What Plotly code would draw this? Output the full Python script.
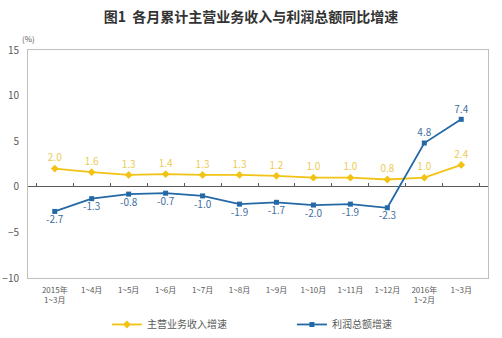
import plotly.graph_objects as go

categories = ["2015年<br>1~3月", "1~4月", "1~5月", "1~6月", "1~7月", "1~8月", "1~9月",
              "1~10月", "1~11月", "1~12月", "2016年<br>1~2月", "1~3月"]
revenue = [2.0, 1.6, 1.3, 1.4, 1.3, 1.3, 1.2, 1.0, 1.0, 0.8, 1.0, 2.4]
profit = [-2.7, -1.3, -0.8, -0.7, -1.0, -1.9, -1.7, -2.0, -1.9, -2.3, 4.8, 7.4]
yticks = [15, 10, 5, 0, -5, -10]

YEL = "#F2C314"
YEL_T = "#EBCB55"
BLU = "#2468A6"
BLU_T = "#3F6F9E"
FONT = "Noto Sans CJK SC"

fig = go.Figure()
fig.add_trace(go.Scatter(
    x=categories, y=revenue, name="主营业务收入增速", mode="lines+markers+text",
    line=dict(color=YEL, width=1.8), marker=dict(color=YEL, size=6, symbol="diamond"),
    text=[f"{v:.1f}" for v in revenue], textposition="top center",
    textfont=dict(color=YEL_T, size=10, family=FONT), cliponaxis=False))
fig.add_trace(go.Scatter(
    x=categories, y=profit, name="利润总额增速", mode="lines+markers+text",
    line=dict(color=BLU, width=1.8), marker=dict(color=BLU, size=5, symbol="square"),
    text=[f"{v:.1f}" for v in profit],
    textposition=["bottom center" if v < 0 else "top center" for v in profit],
    textfont=dict(color=BLU_T, size=10, family=FONT), cliponaxis=False))
# dummy trace for zero-line tick axis
fig.add_trace(go.Scatter(x=categories, y=[None]*len(categories), xaxis="x2",
                         showlegend=False, hoverinfo="skip", mode="lines"))

fig.update_layout(
    width=502, height=338,
    margin=dict(l=28, r=14, t=50, b=60, autoexpand=False),
    paper_bgcolor="white", plot_bgcolor="white",
    font=dict(family=FONT, color="#595959", size=10),
    title=dict(text="<b>图1  各月累计主营业务收入与利润总额同比增速</b>",
               x=0.5, xanchor="center", y=0.95, yanchor="middle",
               font=dict(size=14, color="#333333", family=FONT)),
    xaxis=dict(type="category", showgrid=False, zeroline=False, showline=True,
               linecolor="#BFBFBF", mirror=True, ticks="", ticklabelstandoff=4,
               tickfont=dict(size=8, color="#595959"), tickangle=0),
    xaxis2=dict(type="category", overlaying="x", anchor="free", position=0.4,
                side="bottom", showgrid=False, zeroline=False, showline=False,
                showticklabels=False, ticks="inside", ticklen=4, tickcolor="#595959",
                tickson="boundaries", matches="x"),
    yaxis=dict(range=[-10, 15], tickvals=yticks, showgrid=False, zeroline=True,
               zerolinecolor="#595959", zerolinewidth=1, showline=True,
               linecolor="#BFBFBF", mirror=True, ticks="", ticklabelstandoff=6,
               tickfont=dict(size=10, color="#595959")),
    legend=dict(orientation="h", x=0.213, xanchor="left", xref="container",
                y=0.04, yanchor="middle", yref="container",
                entrywidth=140, font=dict(size=10, color="#595959")),
    showlegend=True,
)
fig.add_annotation(text="(%)", xref="paper", yref="paper", x=0.0, y=1.0,
                   xanchor="center", yanchor="bottom", showarrow=False, yshift=4,
                   font=dict(size=8, color="#595959"))
fig.write_html("out.html")
